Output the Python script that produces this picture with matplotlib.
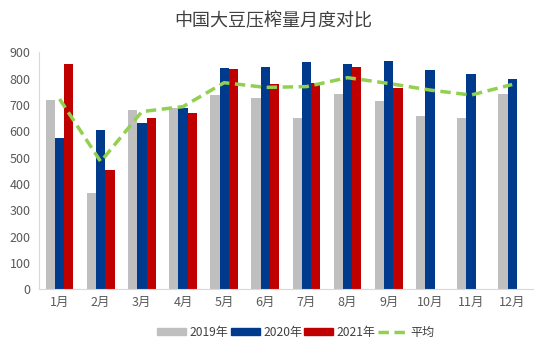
import matplotlib
matplotlib.use("Agg")
import matplotlib.pyplot as plt
import numpy as np
from matplotlib.patches import Patch
from matplotlib.lines import Line2D

plt.rcParams['font.family'] = ['Noto Sans CJK SC', 'DejaVu Sans']

months = ["1月", "2月", "3月", "4月", "5月", "6月", "7月", "8月", "9月", "10月", "11月", "12月"]
y2019 = [719, 366, 681, 690, 738, 727, 651, 742, 715, 658, 651, 742]
y2020 = [573, 605, 630, 689, 840, 844, 863, 856, 867, 833, 818, 799]
y2021 = [856, 453, 651, 670, 837, 780, 782, 844, 765]
avg = [723, 485, 675, 694, 785, 767, 770, 804, 782, 757, 738, 778]
yticks = [0, 100, 200, 300, 400, 500, 600, 700, 800, 900]

c19, c20, c21, cavg = "#BFBFBF", "#003A8C", "#C00000", "#92D050"

fig = plt.figure(figsize=(5.47, 3.54), dpi=100)
ax = fig.add_axes([0.0713, 0.1828, 0.9027, 0.6692])

x = np.arange(len(months))
w = 0.225
ax.bar(x - w, y2019, w, color=c19, label="2019年")
ax.bar(x, y2020, w, color=c20, label="2020年")
ax.bar(np.arange(len(y2021)) + w, y2021, w, color=c21, label="2021年")
ax.plot(x, avg, color=cavg, lw=2.5, ls=(0, (3, 1.6)), label="平均")

ax.set_xlim(-0.5, len(months) - 0.5)
ax.set_ylim(0, 900)
ax.set_yticks(yticks)
ax.set_xticks(x)
ax.set_xticklabels(months)
for s in ["top", "right"]:
    ax.spines[s].set_visible(False)
for s in ["left", "bottom"]:
    ax.spines[s].set_color("#D9D9D9")
ax.tick_params(axis="both", colors="#595959", labelsize=9, length=0)
ax.tick_params(axis="x", pad=5)
ax.tick_params(axis="y", pad=6)

fig.text(0.5, 0.94, "中国大豆压榨量月度对比", ha="center", va="center", fontsize=13, color="#404040")

handles = [Patch(color=c19), Patch(color=c20), Patch(color=c21),
           Line2D([0], [0], color=cavg, lw=2.5, ls=(0, (3, 1.6)))]
labels = ["2019年", "2020年", "2021年", "平均"]
fig.legend(handles, labels, loc="center", bbox_to_anchor=(0.541, 0.062), ncol=4, frameon=False,
           fontsize=8.7, handlelength=2.4, handleheight=0.55, handletextpad=0.3, columnspacing=0.15,
           labelcolor="#404040")

fig.savefig("out.png", dpi=100)
